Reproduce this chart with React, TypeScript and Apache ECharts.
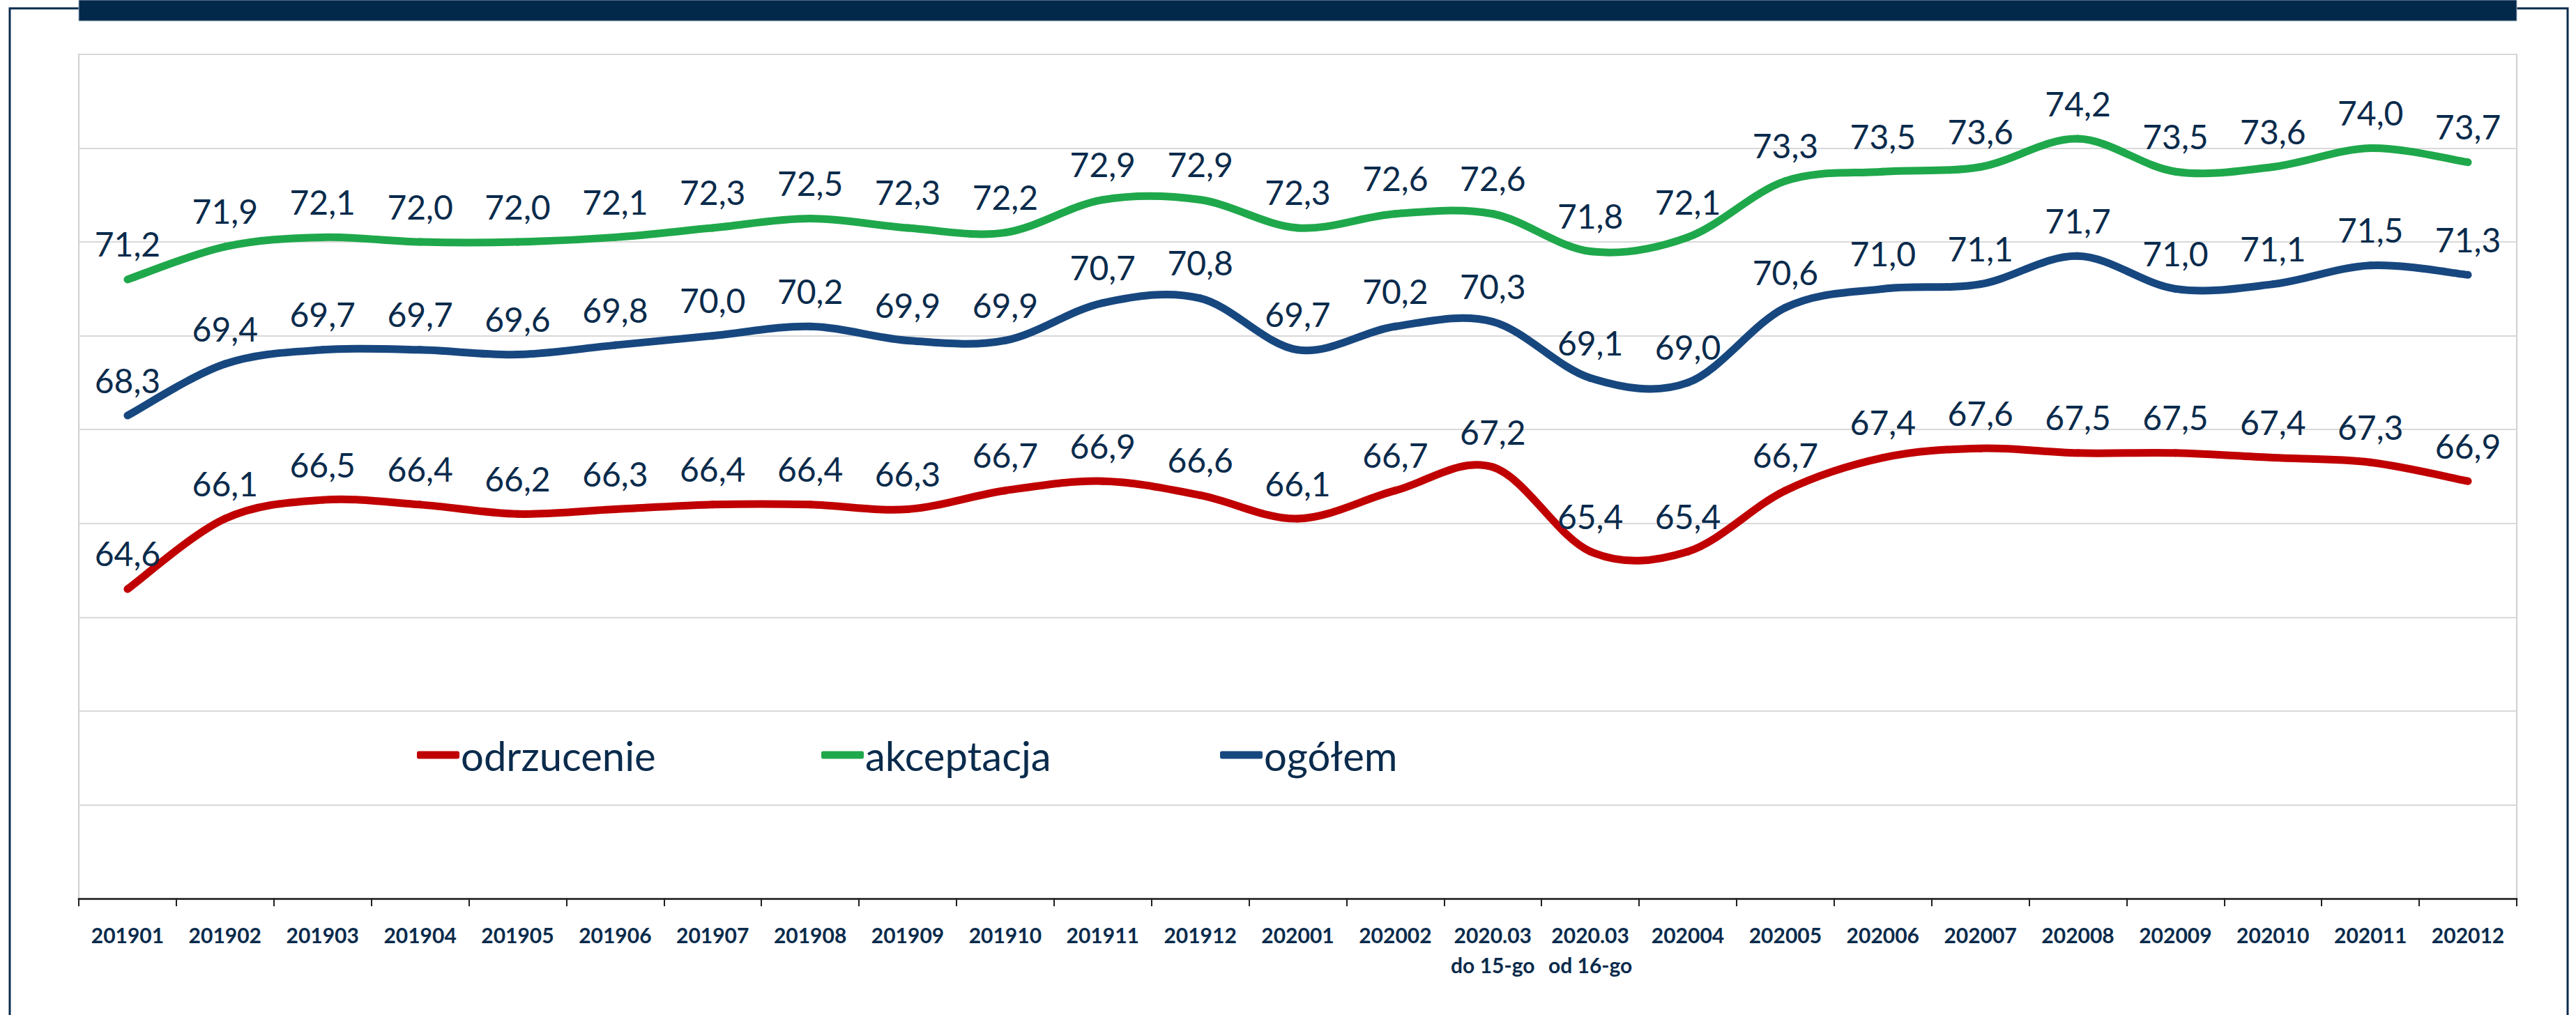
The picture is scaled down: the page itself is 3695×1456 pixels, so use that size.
import React, { useEffect, useRef } from "react";
import * as echarts from "echarts";

const categories = [
  "201901", "201902", "201903", "201904", "201905", "201906", "201907", "201908",
  "201909", "201910", "201911", "201912", "202001", "202002",
  "2020.03\ndo 15-go", "2020.03\nod 16-go",
  "202004", "202005", "202006", "202007", "202008", "202009", "202010", "202011", "202012",
];

const odrzucenie = [
  64.6, 66.1, 66.5, 66.4, 66.2, 66.3, 66.4, 66.4, 66.3, 66.7, 66.9, 66.6, 66.1,
  66.7, 67.2, 65.4, 65.4, 66.7, 67.4, 67.6, 67.5, 67.5, 67.4, 67.3, 66.9,
];

const akceptacja = [
  71.2, 71.9, 72.1, 72.0, 72.0, 72.1, 72.3, 72.5, 72.3, 72.2, 72.9, 72.9, 72.3,
  72.6, 72.6, 71.8, 72.1, 73.3, 73.5, 73.6, 74.2, 73.5, 73.6, 74.0, 73.7,
];

const ogolem = [
  68.3, 69.4, 69.7, 69.7, 69.6, 69.8, 70.0, 70.2, 69.9, 69.9, 70.7, 70.8, 69.7,
  70.2, 70.3, 69.1, 69.0, 70.6, 71.0, 71.1, 71.7, 71.0, 71.1, 71.5, 71.3,
];

const seriesNames = ["odrzucenie", "akceptacja", "ogółem"];
const seriesColors = ["#c00000", "#1fa84b", "#17477f"];
const NAVY = "#0a2b4c";
const FONT = "Lato";

export default function App() {
  const ref = useRef<HTMLDivElement>(null);

  useEffect(() => {
    if (!ref.current) return;
    const chart = echarts.init(ref.current, undefined, { renderer: "svg" });
    const fmt = (p: any) => Number(p.value).toFixed(1).replace(".", ",");

    // invisible line series: carries labels + legend
    const mkLabelSeries = (name: string, data: number[], color: string) => ({
      name,
      type: "line",
      data,
      symbol: "circle",
      symbolSize: 0,
      showSymbol: true,
      lineStyle: { color, width: 11, opacity: 0 },
      itemStyle: { color },
      label: {
        show: true,
        position: "top",
        distance: 27,
        formatter: fmt,
        fontFamily: FONT,
        fontSize: 48,
        color: NAVY,
      },
      z: 5,
    });

    // Excel-like smoothed line (Catmull-Rom bezier segments) through the axes' scales
    const mkCurveSeries = (data: number[], color: string) => ({
      type: "custom",
      data: data.map((v, i) => [i, v]),
      encode: { x: 0, y: 1 },
      z: 3,
      silent: true,
      renderItem: (params: any, api: any) => {
        const i = params.dataIndex;
        const n = data.length;
        if (i >= n - 1) return { type: "group", children: [] };
        const cl = (k: number) => Math.max(0, Math.min(n - 1, k));
        const p = (k: number) => api.coord([cl(k), data[cl(k)]]);
        const P0 = p(i - 1), P1 = p(i), P2 = p(i + 1), P3 = p(i + 2);
        return {
          type: "bezierCurve",
          shape: {
            x1: P1[0], y1: P1[1],
            x2: P2[0], y2: P2[1],
            cpx1: P1[0] + (P2[0] - P0[0]) / 6,
            cpy1: P1[1] + (P2[1] - P0[1]) / 6,
            cpx2: P2[0] - (P3[0] - P1[0]) / 6,
            cpy2: P2[1] - (P3[1] - P1[1]) / 6,
          },
          style: { fill: "none", stroke: color, lineWidth: 11, lineCap: "round" },
        };
      },
    });

    const legendBase = {
      top: 1046,
      icon: "roundRect",
      itemWidth: 61,
      itemHeight: 11,
      itemGap: 0,
      textStyle: {
        fontFamily: FONT,
        fontSize: 58,
        lineHeight: 64,
        color: NAVY,
        padding: [0, 0, 0, -3],
      },
      selectedMode: false,
    };
    const legendItem = (k: number) => ({
      name: seriesNames[k],
      itemStyle: { color: seriesColors[k], opacity: 1 },
    });

    chart.setOption({
      animation: false,
      backgroundColor: "#ffffff",
      graphic: [
        {
          type: "rect",
          shape: { x: 14, y: 12, width: 3669, height: 1520 },
          style: { fill: "none", stroke: NAVY, lineWidth: 3 },
          z: 0,
        },
        {
          type: "rect",
          shape: { x: 113, y: 0, width: 3497, height: 30 },
          style: { fill: "#03294a", stroke: "#9fb0c2", lineWidth: 1 },
          z: 1,
        },
      ],
      grid: {
        left: 113,
        right: 85,
        top: 78,
        bottom: 167,
        show: true,
        borderColor: "#d0d0d0",
        borderWidth: 2,
        backgroundColor: "transparent",
      },
      legend: [
        { ...legendBase, left: 593, data: [legendItem(0)] },
        { ...legendBase, left: 1173, data: [legendItem(1)] },
        { ...legendBase, left: 1745, data: [legendItem(2)] },
      ],
      xAxis: {
        type: "category",
        data: categories,
        boundaryGap: true,
        axisLine: { show: true, lineStyle: { color: "#3a3a3a", width: 3 } },
        axisTick: { show: true, length: 11, lineStyle: { color: "#202020", width: 2 } },
        axisLabel: {
          interval: 0,
          margin: 30,
          fontFamily: FONT,
          fontWeight: "bold",
          fontSize: 30,
          lineHeight: 43,
          color: NAVY,
        },
        splitLine: { show: false },
      },
      yAxis: {
        type: "value",
        min: 58,
        max: 76,
        interval: 2,
        axisLabel: { show: false },
        axisLine: { show: false },
        axisTick: { show: false },
        splitLine: { show: true, lineStyle: { color: "#d9d9d9", width: 2 } },
      },
      series: [
        mkCurveSeries(odrzucenie, seriesColors[0]),
        mkCurveSeries(akceptacja, seriesColors[1]),
        mkCurveSeries(ogolem, seriesColors[2]),
        mkLabelSeries(seriesNames[0], odrzucenie, seriesColors[0]),
        mkLabelSeries(seriesNames[1], akceptacja, seriesColors[1]),
        mkLabelSeries(seriesNames[2], ogolem, seriesColors[2]),
      ],
    });
    return () => chart.dispose();
  }, []);

  return (
    <div
      ref={ref}
      style={{ position: "fixed", left: 0, top: 0, width: 3695, height: 1456, background: "#fff" }}
    />
  );
}
